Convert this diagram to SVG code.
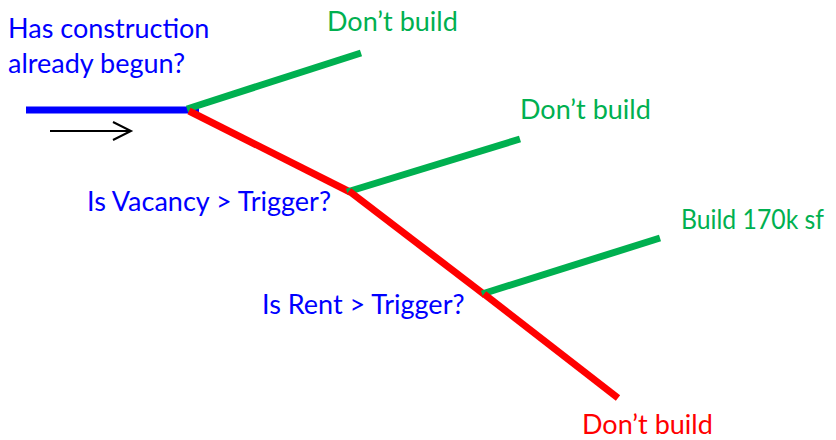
<svg xmlns="http://www.w3.org/2000/svg" width="836" height="440" viewBox="0 0 836 440">
<style>
text { font-family: Lato, "Open Sans", sans-serif; font-size: 27px; }
.q { fill: #0000FF; }
.g { fill: #00B050; }
.r { fill: #FF0000; }
.lb { stroke: #0000FF; stroke-width: 7; fill: none; }
.lg { stroke: #00B050; stroke-width: 7; fill: none; }
.lr { stroke: #FF0000; stroke-width: 7; fill: none; }
.ar { stroke: #000000; stroke-width: 2; fill: none; }
</style>
<rect width="836" height="440" fill="#FFFFFF"/>
<g id="connectors">
  <line class="lb" x1="26" y1="110" x2="199" y2="110"/>
  <line class="lg" x1="187" y1="109" x2="361" y2="53"/>
  <line class="lr" x1="189" y1="111" x2="350" y2="192"/>
  <line class="lg" x1="347" y1="192" x2="520" y2="139"/>
  <line class="lr" x1="349" y1="191" x2="485" y2="295"/>
  <line class="lg" x1="482" y1="294" x2="660" y2="238"/>
  <line class="lr" x1="484" y1="294" x2="618" y2="398"/>
  <path class="ar" d="M50 131 H131 M113 122 L131 131 L113 140"/>
</g>
<g id="start">
  <text class="q" x="8" y="38">Has construction</text>
  <text class="q" x="8" y="73">already begun?</text>
</g>
<g id="dont-build-1"><text class="g" x="327" y="31">Don’t build</text></g>
<g id="vacancy"><text class="q" x="87" y="211">Is Vacancy &gt; Trigger?</text></g>
<g id="dont-build-2"><text class="g" x="520" y="119">Don’t build</text></g>
<g id="rent"><text class="q" x="262" y="314">Is Rent &gt; Trigger?</text></g>
<g id="build"><text class="g" x="681" y="229" font-size="26" textLength="143" lengthAdjust="spacingAndGlyphs">Build 170k sf</text></g>
<g id="dont-build-3"><text class="r" x="582" y="434">Don’t build</text></g>
</svg>
